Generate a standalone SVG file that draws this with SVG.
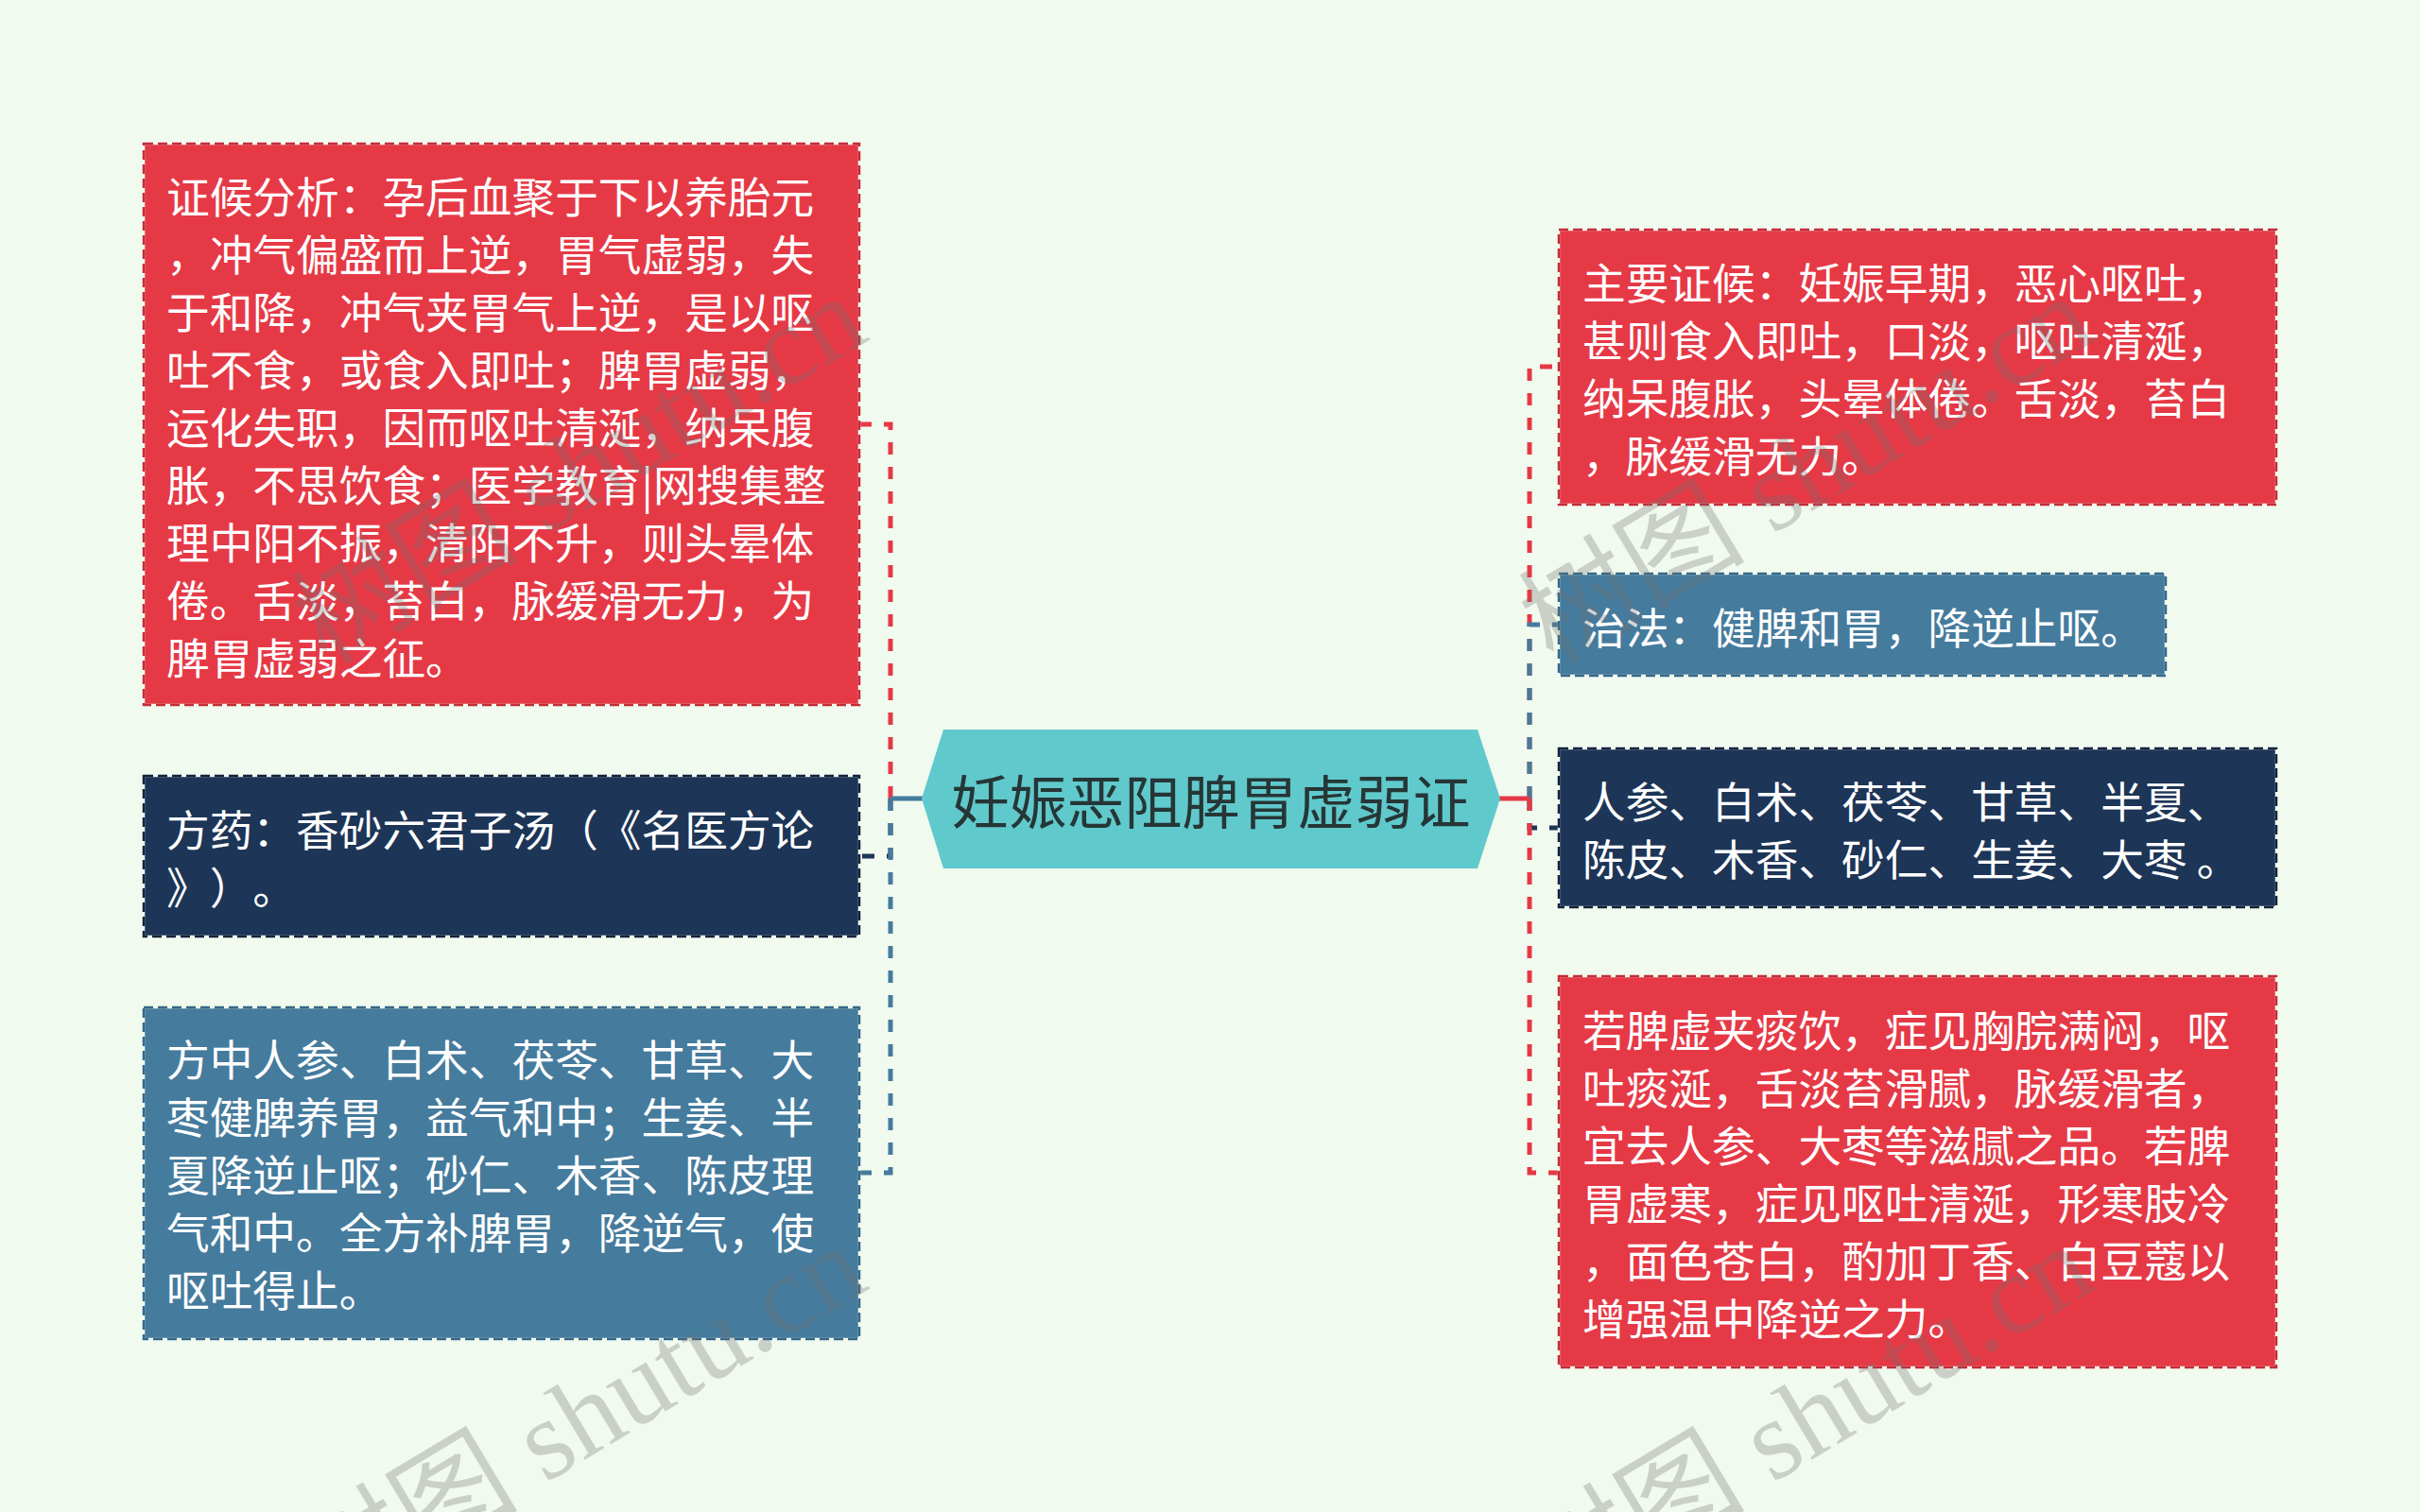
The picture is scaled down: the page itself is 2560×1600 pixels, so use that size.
<svg xmlns="http://www.w3.org/2000/svg" width="2560" height="1600" viewBox="0 0 2560 1600">
<defs>
<style>
.bg{fill:#f1faee}
.red{fill:#e63946}
.navy{fill:#1d3557}
.blue{fill:#457b9d}
.edge-in{fill:none;stroke:#f1faee;stroke-width:2.5}
.bd-red{fill:none;stroke:#c42c3a;stroke-width:2.5;stroke-dasharray:10 5}
.bd-navy{fill:none;stroke:#12233d;stroke-width:2.5;stroke-dasharray:10 5}
.bd-blue{fill:none;stroke:#35678a;stroke-width:2.5;stroke-dasharray:10 5}
.t{font-family:"Noto Sans CJK SC","Noto Sans",sans-serif;font-size:45.7px;fill:#ffffff;dominant-baseline:central;text-spacing-trim:space-all;font-feature-settings:"halt" 0,"chws" 0}
.ct{font-family:"Noto Sans CJK SC","Noto Sans",sans-serif;font-size:61px;fill:#263636;dominant-baseline:central;text-anchor:middle}
.c{fill:none;stroke-width:5;stroke-dasharray:13 13}
.s{fill:none;stroke-width:5}
.cr{stroke:#e63946}
.cn{stroke:#1d3557}
.cb{stroke:#457b9d}
.wm{font-family:"Liberation Serif","Noto Sans CJK SC",serif;font-size:120px;fill:#6f6f6f;fill-opacity:0.3}
</style>
</defs>
<rect class="bg" x="0" y="0" width="2560" height="1600"/>

<g id="connectors">
  <path class="c cr" d="M942 845 V449 H909"/>
  <path class="c cn" d="M942 845 V906 H909"/>
  <path class="c cb" d="M942 845 V1241 H909"/>
  <path class="s cb" d="M976 845 H942"/>
  <path class="c cr" d="M1618 845 V388 H1649"/>
  <path class="c cb" d="M1618 845 V661 H1649"/>
  <path class="c cn" d="M1618 845 V876 H1649"/>
  <path class="c cr" d="M1618 845 V1241 H1649"/>
  <path class="s cr" d="M1586 845 H1618"/>
</g>

<g id="center">
  <polygon points="975,845 998,772 1563,772 1587,845 1563,919 998,919" fill="#60c9cc"/>
  <text class="ct" x="1281" y="845">妊娠恶阻脾胃虚弱证</text>
</g>

<g id="left1">
  <rect class="red" x="152" y="152" width="757" height="594"/>
  <rect class="edge-in" x="152" y="152" width="757" height="594"/>
  <rect class="bd-red" x="152" y="152" width="757" height="594"/>
  <text class="t" x="176" y="206">证候分析：孕后血聚于下以养胎元</text>
  <text class="t" x="176" y="267">，冲气偏盛而上逆，胃气虚弱，失</text>
  <text class="t" x="176" y="328">于和降，冲气夹胃气上逆，是以呕</text>
  <text class="t" x="176" y="389">吐不食，或食入即吐；脾胃虚弱，</text>
  <text class="t" x="176" y="450">运化失职，因而呕吐清涎，纳呆腹</text>
  <text class="t" x="176" y="511">胀，不思饮食；医学教育|网搜集整</text>
  <text class="t" x="176" y="572">理中阳不振，清阳不升，则头晕体</text>
  <text class="t" x="176" y="633">倦。舌淡，苔白，脉缓滑无力，为</text>
  <text class="t" x="176" y="694">脾胃虚弱之征。</text>
</g>

<g id="left2">
  <rect class="navy" x="152" y="821" width="757" height="170"/>
  <rect class="edge-in" x="152" y="821" width="757" height="170"/>
  <rect class="bd-navy" x="152" y="821" width="757" height="170"/>
  <text class="t" x="176" y="876">方药：香砂六君子汤（《名医方论</text>
  <text class="t" x="176" y="937">》）。</text>
</g>

<g id="left3">
  <rect class="blue" x="152" y="1066" width="757" height="351"/>
  <rect class="edge-in" x="152" y="1066" width="757" height="351"/>
  <rect class="bd-blue" x="152" y="1066" width="757" height="351"/>
  <text class="t" x="176" y="1119">方中人参、白术、茯苓、甘草、大</text>
  <text class="t" x="176" y="1180">枣健脾养胃，益气和中；生姜、半</text>
  <text class="t" x="176" y="1241">夏降逆止呕；砂仁、木香、陈皮理</text>
  <text class="t" x="176" y="1302">气和中。全方补脾胃，降逆气，使</text>
  <text class="t" x="176" y="1363">呕吐得止。</text>
</g>

<g id="right1">
  <rect class="red" x="1649" y="243" width="759" height="291"/>
  <rect class="edge-in" x="1649" y="243" width="759" height="291"/>
  <rect class="bd-red" x="1649" y="243" width="759" height="291"/>
  <text class="t" x="1674" y="297">主要证候：妊娠早期，恶心呕吐，</text>
  <text class="t" x="1674" y="358">甚则食入即吐，口淡，呕吐清涎，</text>
  <text class="t" x="1674" y="419">纳呆腹胀，头晕体倦。舌淡，苔白</text>
  <text class="t" x="1674" y="480">，脉缓滑无力。</text>
</g>

<g id="right2">
  <rect class="blue" x="1649" y="607" width="642" height="108"/>
  <rect class="edge-in" x="1649" y="607" width="642" height="108"/>
  <rect class="bd-blue" x="1649" y="607" width="642" height="108"/>
  <text class="t" x="1674" y="662">治法：健脾和胃，降逆止呕。</text>
</g>

<g id="right3">
  <rect class="navy" x="1649" y="792" width="759" height="168"/>
  <rect class="edge-in" x="1649" y="792" width="759" height="168"/>
  <rect class="bd-navy" x="1649" y="792" width="759" height="168"/>
  <text class="t" x="1674" y="846">人参、白术、茯苓、甘草、半夏、</text>
  <text class="t" x="1674" y="907">陈皮、木香、砂仁、生姜、大枣 。</text>
</g>

<g id="right4">
  <rect class="red" x="1649" y="1033" width="759" height="414"/>
  <rect class="edge-in" x="1649" y="1033" width="759" height="414"/>
  <rect class="bd-red" x="1649" y="1033" width="759" height="414"/>
  <text class="t" x="1674" y="1088">若脾虚夹痰饮，症见胸脘满闷，呕</text>
  <text class="t" x="1674" y="1149">吐痰涎，舌淡苔滑腻，脉缓滑者，</text>
  <text class="t" x="1674" y="1210">宜去人参、大枣等滋腻之品。若脾</text>
  <text class="t" x="1674" y="1271">胃虚寒，症见呕吐清涎，形寒肢冷</text>
  <text class="t" x="1674" y="1332">，面色苍白，酌加丁香、白豆蔻以</text>
  <text class="t" x="1674" y="1393">增强温中降逆之力。</text>
</g>

<g id="watermark">
  <text class="wm" x="345" y="705" transform="rotate(-31 345 705)">树图 shutu.cn</text>
  <text class="wm" x="1643" y="705" transform="rotate(-31 1643 705)">树图 shutu.cn</text>
  <text class="wm" x="345" y="1709" transform="rotate(-31 345 1709)">树图 shutu.cn</text>
  <text class="wm" x="1643" y="1709" transform="rotate(-31 1643 1709)">树图 shutu.cn</text>
</g>
</svg>
